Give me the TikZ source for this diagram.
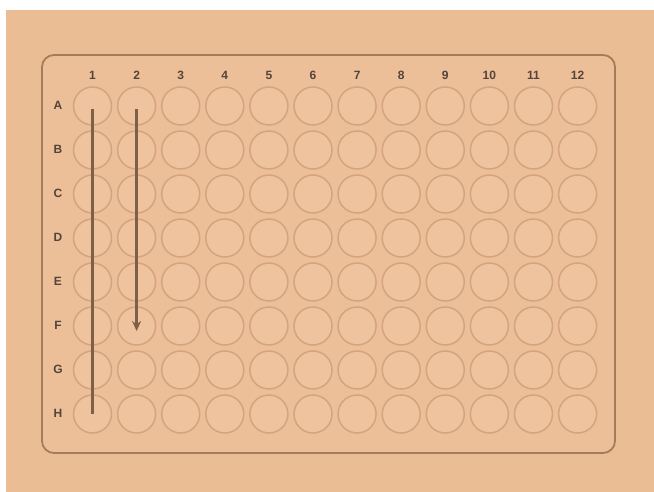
\documentclass[tikz,border=0pt]{standalone}
\usepackage{fontspec}
\setsansfont{Liberation Sans}
\usetikzlibrary{arrows.meta}
\definecolor{fond}{HTML}{EBBD94}
\definecolor{plaque}{HTML}{ECBF99}
\definecolor{bord}{HTML}{A67C58}
\definecolor{puits}{HTML}{D4A47D}
\definecolor{puitsfond}{HTML}{EFC39E}
\definecolor{texte}{HTML}{54443A}
\definecolor{fleche}{HTML}{7E6049}
\tikzset{
  puit/.style={circle, draw=puits, fill=puitsfond, line width=1.5pt, minimum size=38pt, inner sep=0pt},
  etiquette/.style={text=texte, font=\sffamily\bfseries\fontsize{12}{14}\selectfont},
  trajet/.style={draw=fleche, line width=2.6pt}
}
\begin{document}
\begin{tikzpicture}[x=1pt,y=-1pt]
  % Cadre
  \useasboundingbox (0,0) rectangle (654,492);
  \fill[white] (0,0) rectangle (654,492);
  \fill[fond] (6,10) rectangle (654,492);
  % Plaque
  \draw[bord, fill=plaque, line width=1.8pt, rounded corners=12pt] (42,55) rectangle (615,453);
  % Numeros de colonnes
  \foreach \c in {1,...,12}
    \node[etiquette] (col-\c) at ({92.5+44.1*(\c-1)}, 75) {\c};
  % Lettres des lignes et puits
  \foreach \r [count=\i from 0] in {A,B,C,D,E,F,G,H} {
    \node[etiquette] (lig-\r) at (58, {105+44*\i}) {\r};
    \foreach \c in {1,...,12}
      \node[puit] (w-\r-\c) at ({92.5+44.1*(\c-1)}, {106+44*\i}) {};
  }
  % Sens de remplissage
  \draw[trajet] ([yshift=-3pt]w-A-1.center) -- (w-H-1.center);
  \draw[trajet, -{Stealth[length=10pt,width=9pt]}] ([yshift=-3pt]w-A-2.center) -- ([yshift=-5pt]w-F-2.center);
\end{tikzpicture}
\end{document}
